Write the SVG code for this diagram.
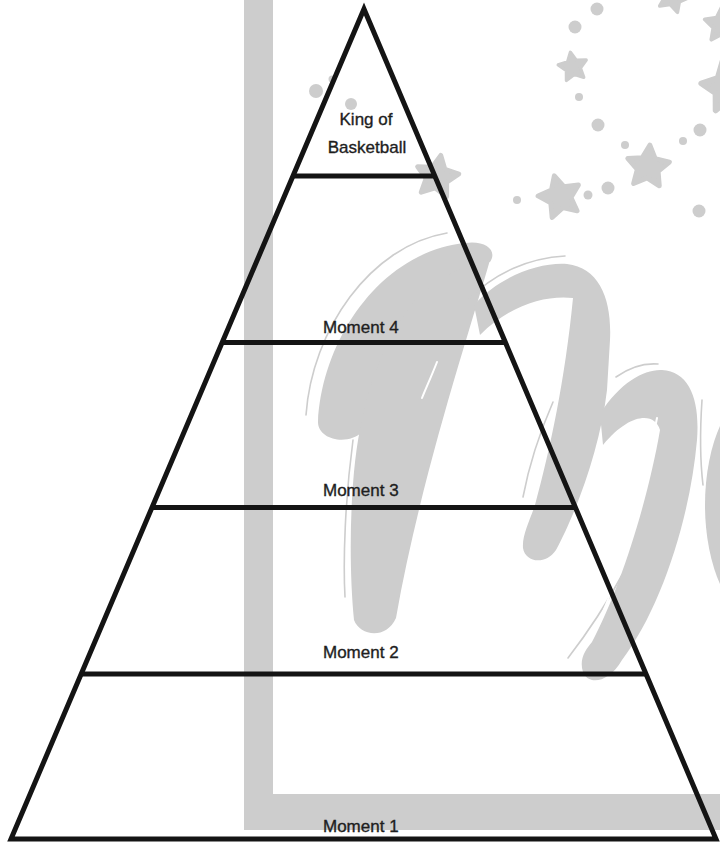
<svg xmlns="http://www.w3.org/2000/svg" xmlns:xlink="http://www.w3.org/1999/xlink" width="720" height="844" viewBox="0 0 720 844">
<style>
.wm{fill:#cdcdcd;stroke:none}
.wmline{fill:none;stroke:#cdcdcd;stroke-width:1.6;stroke-linecap:round}
.hl{fill:none;stroke:#ffffff;stroke-width:2;stroke-linecap:round}
.edge{fill:none;stroke:#141414;stroke-width:5;stroke-linejoin:miter;stroke-miterlimit:10}
.tier{fill:none;stroke:#141414;stroke-width:5}
.lbl{font-family:"Liberation Sans",Arial,sans-serif;font-size:17px;fill:#1e1e1e;stroke:#1e1e1e;stroke-width:0.35}
.c{text-anchor:middle}
</style>
<defs>
<path id="star" d="M0,-10 L2.94,-4.05 9.51,-3.09 4.76,1.55 5.88,8.09 0,5 -5.88,8.09 -4.76,1.55 -9.51,-3.09 -2.94,-4.05Z" fill="#cdcdcd" stroke="#cdcdcd" stroke-width="2.2" stroke-linejoin="round"/>
</defs>
<rect width="720" height="844" fill="#ffffff"/>
<g id="watermark">
<rect class="wm" x="244" y="0" width="29" height="830"/>
<rect class="wm" x="244" y="794" width="476" height="36"/>
<path class="wm" d="M318,422 C322,340 380,252 465,243 C485,240 498,250 490,262 C455,264 390,330 362,432 C348,446 318,440 318,422 Z"/>
<path class="wm" d="M415,300 C440,278 470,260 490,260 C470,330 420,480 396,618 C386,640 360,636 354,620 C348,560 350,470 362,420 C372,370 392,330 415,300 Z"/>
<path class="wm" d="M474,305 C500,276 540,262 567,264 C600,268 612,300 610,340 L607,390 C600,450 575,515 556,550 C545,566 525,562 523,548 C522,535 530,520 535,505 C550,450 565,380 573,298 C545,295 510,305 480,335 Z"/>
<path class="wm" d="M600,414 C620,382 645,369 662,370 C690,372 700,400 697,440 C690,520 660,610 622,660 C608,684 588,685 583,672 C579,660 585,650 592,642 C620,590 648,500 660,430 C655,412 630,412 603,445 Z"/>
<ellipse class="wm" cx="760" cy="505" rx="55" ry="115"/>
<path class="wmline" d="M306,415 C312,330 370,246 447,233"/>
<path class="wmline" d="M353,440 C345,500 343,560 345,597"/>
<path class="wmline" d="M468,300 C495,272 530,258 565,256"/>
<path class="wmline" d="M616,377 C630,367 645,363 658,364"/>
<path class="wmline" d="M568,658 C588,632 606,605 622,575"/>
<path class="wmline" d="M523,497 C530,460 543,425 553,402"/>
<path class="wmline" d="M702,400 C700,430 700,460 703,485"/>
<path class="hl" d="M437,362 C432,375 426,388 422,398"/>
<path class="hl" d="M657,418 C645,480 625,560 603,612"/>
<use href="#star" transform="translate(437,177) scale(2.2) rotate(10)"/>
<use href="#star" transform="translate(573,67) scale(1.5) rotate(-10)"/>
<use href="#star" transform="translate(648,167) scale(2.2) rotate(5)"/>
<use href="#star" transform="translate(560,197) scale(2.2) rotate(-15)"/>
<use href="#star" transform="translate(673,-3) scale(1.6) rotate(20)"/>
<use href="#star" transform="translate(722,25) scale(1.8)"/>
<use href="#star" transform="translate(727,87) scale(2.6) rotate(-10)"/>
<circle class="wm" cx="597" cy="9" r="6.5"/>
<circle class="wm" cx="575" cy="27" r="6.5"/>
<circle class="wm" cx="579" cy="97" r="4"/>
<circle class="wm" cx="598" cy="125" r="6.5"/>
<circle class="wm" cx="625" cy="145" r="4"/>
<circle class="wm" cx="700" cy="130" r="6.5"/>
<circle class="wm" cx="683" cy="141" r="4"/>
<circle class="wm" cx="699" cy="211" r="6.5"/>
<circle class="wm" cx="608" cy="188" r="6.5"/>
<circle class="wm" cx="588" cy="195" r="4.5"/>
<circle class="wm" cx="517" cy="200" r="4"/>
<circle class="wm" cx="316" cy="91" r="7"/>
<circle class="wm" cx="351" cy="104" r="6"/>
<circle class="wm" cx="332" cy="79" r="3.5"/>
</g>
<g id="connectors">
<polygon id="pyramid-outline" class="edge" points="364,9 716,839 11,839"/>
<line class="tier" x1="293" y1="176" x2="435" y2="176"/>
<line class="tier" x1="222" y1="342.5" x2="505.5" y2="342.5"/>
<line class="tier" x1="152" y1="507.5" x2="575.5" y2="507.5"/>
<line class="tier" x1="81" y1="674" x2="646" y2="674"/>
</g>
<g id="tier-top"><text class="lbl c" x="366" y="125">King of</text><text class="lbl c" x="367" y="153">Basketball</text></g>
<g id="tier-moment4"><text class="lbl" x="323" y="333">Moment 4</text></g>
<g id="tier-moment3"><text class="lbl" x="323" y="496">Moment 3</text></g>
<g id="tier-moment2"><text class="lbl" x="323" y="658">Moment 2</text></g>
<g id="tier-moment1"><text class="lbl" x="323" y="832">Moment 1</text></g>
</svg>
